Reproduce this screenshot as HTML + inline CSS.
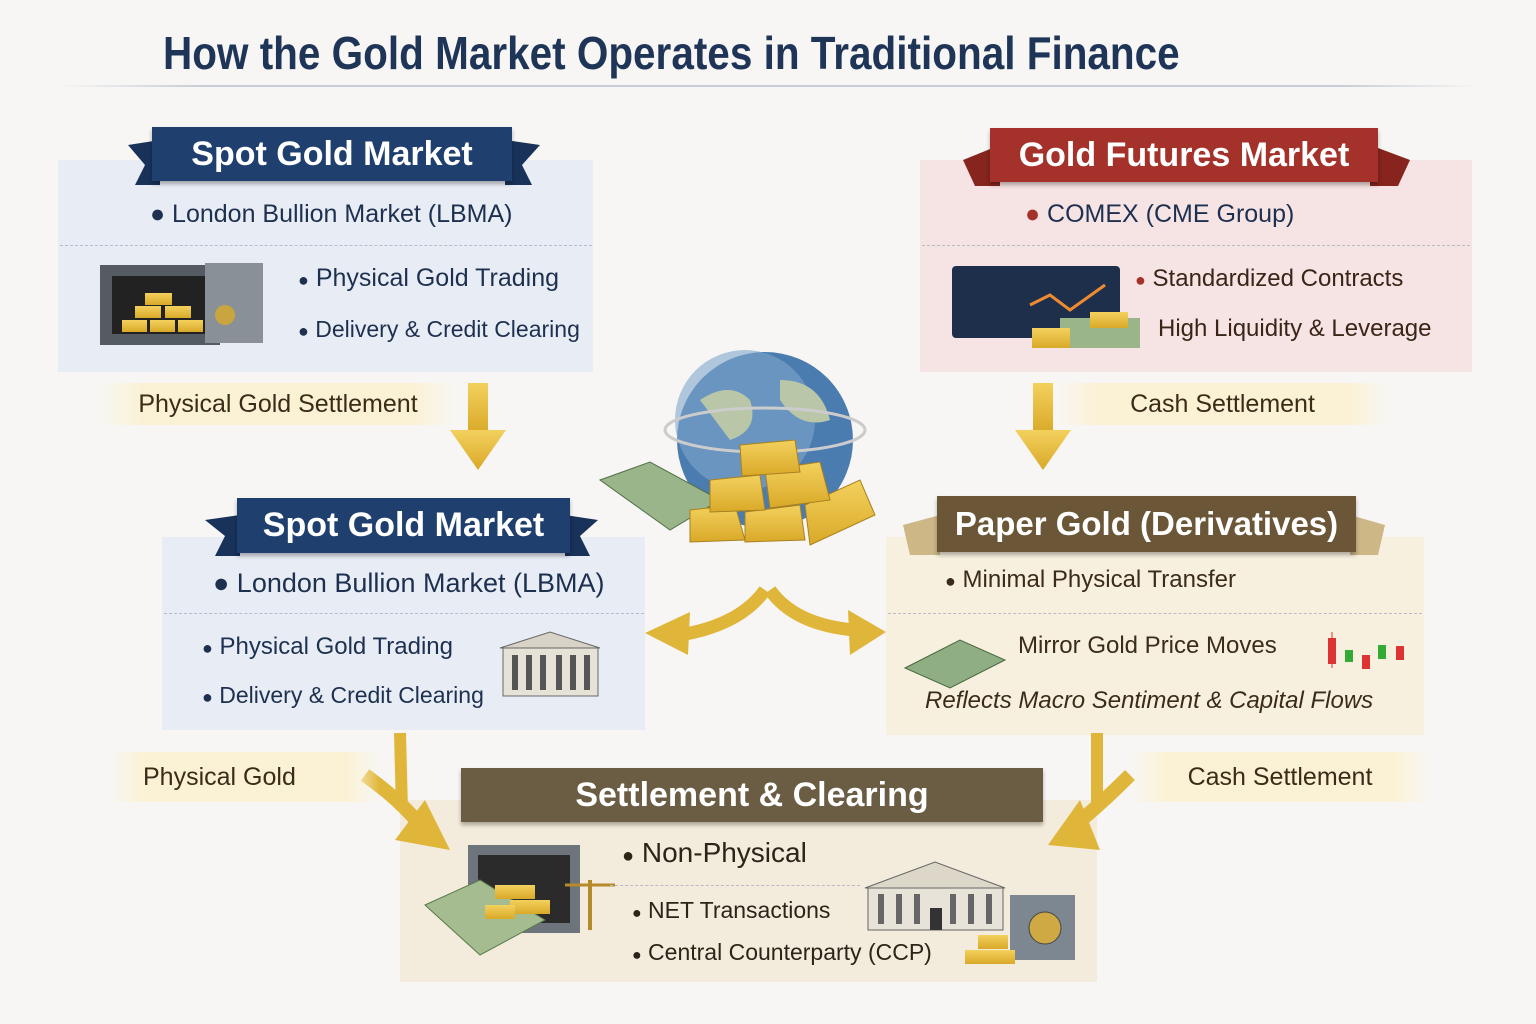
<!DOCTYPE html>
<html><head><meta charset="utf-8"><style>
*{margin:0;padding:0;box-sizing:border-box}
body{width:1536px;height:1024px;background:#f7f6f4;position:relative;overflow:hidden;font-family:"Liberation Sans",sans-serif;}
.a{position:absolute}
.t{position:absolute;white-space:nowrap;color:#1e3050;font-size:25px}
.banner{position:absolute;color:#fff;font-weight:bold;display:flex;align-items:center;justify-content:center;white-space:nowrap;box-shadow:0 3px 4px rgba(0,0,0,.3)}
.dash{position:absolute;border-top:1.5px dashed #b8bcc6}
.strip{position:absolute;background:linear-gradient(90deg,rgba(251,244,218,0),#fbf2d6 12%,#fbf2d6 88%,rgba(251,244,218,0));color:#3a2c18;font-size:25px;display:flex;align-items:center;justify-content:center}
</style></head><body>
<div class="t" style="left:163px;top:26px;font-size:46px;font-weight:bold;color:#1f3558;transform:scaleX(0.88);transform-origin:0 0">How the Gold Market Operates in Traditional Finance</div>
<div class="a" style="left:60px;top:85px;width:1420px;height:2px;background:linear-gradient(90deg,transparent,#c7ccd6 10%,#c7ccd6 90%,transparent)"></div>

<div class="a" style="left:58px;top:160px;width:535px;height:212px;background:#e8edf5"></div>
<div class="a" style="left:920px;top:160px;width:552px;height:212px;background:#f6e3e3"></div>
<div class="a" style="left:162px;top:537px;width:483px;height:193px;background:#e8edf5"></div>
<div class="a" style="left:886px;top:537px;width:538px;height:198px;background:#f7f0df"></div>
<div class="a" style="left:400px;top:800px;width:697px;height:182px;background:#f3ebdb"></div>

<svg class="a" style="left:0;top:0" width="1536" height="1024">
<defs><linearGradient id="g" x1="0" y1="0" x2="0" y2="1"><stop offset="0" stop-color="#f3d15e"/><stop offset="1" stop-color="#d9a928"/></linearGradient></defs>
<polygon points="128,145 160,140 160,185 135,185 145,165" fill="#18325a"/>
<polygon points="540,145 505,140 505,185 532,185 522,165" fill="#18325a"/>
<polygon points="963,160 1000,145 1000,186 975,186" fill="#87241e"/>
<polygon points="1410,160 1370,145 1370,186 1398,186" fill="#87241e"/>
<polygon points="205,520 240,515 240,556 215,556 225,536" fill="#18325a"/>
<polygon points="598,520 565,515 565,556 590,556 580,536" fill="#18325a"/>
<polygon points="903,525 940,515 940,555 910,555" fill="#cdb787"/>
<polygon points="1385,525 1350,515 1350,555 1378,555" fill="#cdb787"/>
<rect x="468" y="383" width="20" height="50" fill="url(#g)"/><polygon points="450,430 506,430 478,470" fill="url(#g)"/>
<rect x="1033" y="383" width="20" height="50" fill="url(#g)"/><polygon points="1015,430 1071,430 1043,470" fill="url(#g)"/>
<path d="M400,733 L402,810" stroke="#e0b63a" stroke-width="12" fill="none"/>
<path d="M365,775 Q400,800 420,825" stroke="#e0b63a" stroke-width="14" fill="none"/><polygon points="395,840 450,850 425,800" fill="#e0b63a"/>
<path d="M1097,733 L1097,810" stroke="#e0b63a" stroke-width="12" fill="none"/>
<path d="M1130,775 Q1100,805 1075,825" stroke="#e0b63a" stroke-width="14" fill="none"/><polygon points="1048,845 1100,850 1080,800" fill="#e0b63a"/>
<path d="M765,590 Q740,625 680,635" stroke="#e0b63a" stroke-width="13" fill="none"/><polygon points="645,633 690,612 688,655" fill="#e0b63a"/>
<path d="M770,590 Q795,625 855,630" stroke="#e0b63a" stroke-width="13" fill="none"/><polygon points="886,632 848,610 850,655" fill="#e0b63a"/>
<circle cx="765" cy="440" r="88" fill="#4b7cb0"/><circle cx="745" cy="420" r="70" fill="#7fa6cc" opacity=".6"/>
<path d="M700,400 q30,-20 50,0 q10,30 -20,40 z M780,380 q40,0 50,40 q-30,10 -50,-20z" fill="#b9c7a8"/>
<ellipse cx="765" cy="430" rx="100" ry="22" fill="none" stroke="#ccc" stroke-width="3"/>
<polygon points="600,480 650,462 720,500 670,530" fill="#9bb58a" stroke="#51704a"/>
<g fill="url(#g)" stroke="#a9801f">
<polygon points="690,510 735,505 745,540 690,542"/><polygon points="745,512 800,505 805,540 745,542"/><polygon points="805,505 860,480 875,515 810,545"/>
<polygon points="710,480 760,475 765,510 710,512"/><polygon points="765,470 820,462 830,500 770,508"/><polygon points="740,445 795,440 800,472 742,476"/>
</g>
<rect x="100" y="265" width="120" height="80" fill="#555b63"/><rect x="112" y="276" width="96" height="58" fill="#222"/>
<rect x="205" y="263" width="58" height="80" fill="#8a9097"/><circle cx="225" cy="315" r="10" fill="#c9a540"/>
<g fill="url(#g)"><rect x="122" y="320" width="25" height="12"/><rect x="150" y="320" width="25" height="12"/><rect x="178" y="320" width="25" height="12"/><rect x="135" y="306" width="26" height="12"/><rect x="165" y="306" width="26" height="12"/><rect x="145" y="293" width="27" height="12"/></g>
<rect x="952" y="266" width="168" height="72" rx="4" fill="#1d2f4a"/><polyline points="1030,305 1050,295 1070,310 1105,285" stroke="#f08a30" stroke-width="3" fill="none"/>
<rect x="1060" y="318" width="80" height="30" fill="#9bb58a"/><rect x="1032" y="328" width="38" height="20" fill="url(#g)"/><rect x="1090" y="312" width="38" height="16" fill="url(#g)"/>
<polygon points="500,648 550,632 600,648" fill="#d8d3c6" stroke="#666"/><rect x="503" y="648" width="95" height="48" fill="#e6e2d8" stroke="#666"/>
<g fill="#555"><rect x="512" y="655" width="6" height="35"/><rect x="526" y="655" width="6" height="35"/><rect x="540" y="655" width="6" height="35"/><rect x="556" y="655" width="6" height="35"/><rect x="570" y="655" width="6" height="35"/><rect x="584" y="655" width="6" height="35"/></g>
<polygon points="905,668 960,640 1005,660 950,688" fill="#8fae83" stroke="#48683f"/>
<g><line x1="1332" y1="632" x2="1332" y2="668" stroke="#d33"/><rect x="1328" y="638" width="8" height="26" fill="#d33"/>
<rect x="1345" y="650" width="8" height="12" fill="#3a3"/><rect x="1362" y="655" width="8" height="14" fill="#d33"/><rect x="1378" y="645" width="8" height="14" fill="#3a3"/><rect x="1396" y="646" width="8" height="14" fill="#d33"/></g>
<rect x="468" y="845" width="112" height="88" fill="#6e747b"/><rect x="478" y="855" width="92" height="68" fill="#2b2b2b"/>
<polygon points="425,905 480,880 545,920 480,955" fill="#a4bc8f" stroke="#5a7a4c"/>
<g fill="url(#g)"><rect x="495" y="885" width="40" height="14"/><rect x="510" y="900" width="40" height="14"/><rect x="485" y="905" width="30" height="14"/></g>
<line x1="590" y1="880" x2="590" y2="930" stroke="#b48a2a" stroke-width="4"/><line x1="565" y1="885" x2="615" y2="885" stroke="#b48a2a" stroke-width="3"/>
<polygon points="865,888 935,862 1005,888" fill="#ddd7ca" stroke="#666"/><rect x="868" y="888" width="135" height="42" fill="#e8e3d8" stroke="#666"/>
<g fill="#666"><rect x="878" y="894" width="6" height="30"/><rect x="896" y="894" width="6" height="30"/><rect x="914" y="894" width="6" height="30"/><rect x="950" y="894" width="6" height="30"/><rect x="968" y="894" width="6" height="30"/><rect x="986" y="894" width="6" height="30"/><rect x="930" y="908" width="12" height="22" fill="#333"/></g>
<rect x="1010" y="895" width="65" height="65" fill="#7d8791"/><circle cx="1045" cy="928" r="16" fill="#cfa944" stroke="#444"/>
<g fill="url(#g)"><rect x="965" y="950" width="50" height="14"/><rect x="978" y="935" width="30" height="14"/></g>
</svg>

<div class="banner" style="left:152px;top:127px;width:360px;height:54px;background:#1f3f6e;font-size:34px">Spot Gold Market</div>
<div class="banner" style="left:990px;top:128px;width:388px;height:54px;background:#a5322a;font-size:34px">Gold Futures Market</div>
<div class="banner" style="left:237px;top:498px;width:333px;height:55px;background:#1f3f6e;font-size:34px">Spot Gold Market</div>
<div class="banner" style="left:937px;top:496px;width:419px;height:56px;background:#6b5737;font-size:33px">Paper Gold (Derivatives)</div>
<div class="banner" style="left:461px;top:768px;width:582px;height:54px;background:#6b5c44;font-size:34px">Settlement &amp; Clearing</div>

<div class="t" style="left:150px;top:200px">● London Bullion Market (LBMA)</div>
<div class="dash" style="left:60px;top:245px;width:532px"></div>
<div class="t" style="left:298px;top:264px"><span style="font-size:18px">●</span> Physical Gold Trading</div>
<div class="t" style="left:298px;top:316px;font-size:23px"><span style="font-size:18px">●</span> Delivery &amp; Credit Clearing</div>

<div class="t" style="left:1025px;top:200px"><span style="color:#a5322a">●</span> COMEX (CME Group)</div>
<div class="dash" style="left:922px;top:245px;width:548px"></div>
<div class="t" style="left:1135px;top:265px;color:#3b2418;font-size:24px"><span style="color:#a5322a;font-size:18px">●</span> Standardized Contracts</div>
<div class="t" style="left:1158px;top:315px;color:#3b2418;font-size:24px">High Liquidity &amp; Leverage</div>

<div class="strip" style="left:98px;top:383px;width:360px;height:42px">Physical Gold Settlement</div>
<div class="strip" style="left:1055px;top:383px;width:335px;height:42px">Cash Settlement</div>

<div class="t" style="left:213px;top:568px;font-size:27px">● London Bullion Market (LBMA)</div>
<div class="dash" style="left:164px;top:613px;width:480px"></div>
<div class="t" style="left:202px;top:633px;font-size:24px"><span style="font-size:18px">●</span> Physical Gold Trading</div>
<div class="t" style="left:202px;top:682px;font-size:23px"><span style="font-size:18px">●</span> Delivery &amp; Credit Clearing</div>

<div class="t" style="left:945px;top:566px;color:#3a2c18;font-size:24px"><span style="font-size:18px">●</span> Minimal Physical Transfer</div>
<div class="dash" style="left:888px;top:613px;width:534px"></div>
<div class="t" style="left:1018px;top:632px;color:#3a2c18;font-size:24px">Mirror Gold Price Moves</div>
<div class="t" style="left:925px;top:687px;color:#3a2c18;font-size:24px;font-style:italic">Reflects Macro Sentiment &amp; Capital Flows</div>

<div class="strip" style="left:110px;top:752px;width:270px;height:50px;justify-content:flex-start;padding-left:33px">Physical Gold</div>
<div class="strip" style="left:1130px;top:752px;width:300px;height:50px">Cash Settlement</div>

<div class="t" style="left:622px;top:837px;color:#2b2418;font-size:28px"><span style="font-size:20px">●</span> Non-Physical</div>
<div class="dash" style="left:610px;top:885px;width:250px"></div>
<div class="t" style="left:632px;top:897px;color:#2b2418;font-size:23px"><span style="font-size:16px">●</span> NET Transactions</div>
<div class="t" style="left:632px;top:939px;color:#2b2418;font-size:23px"><span style="font-size:16px">●</span> Central Counterparty (CCP)</div>
</body></html>
